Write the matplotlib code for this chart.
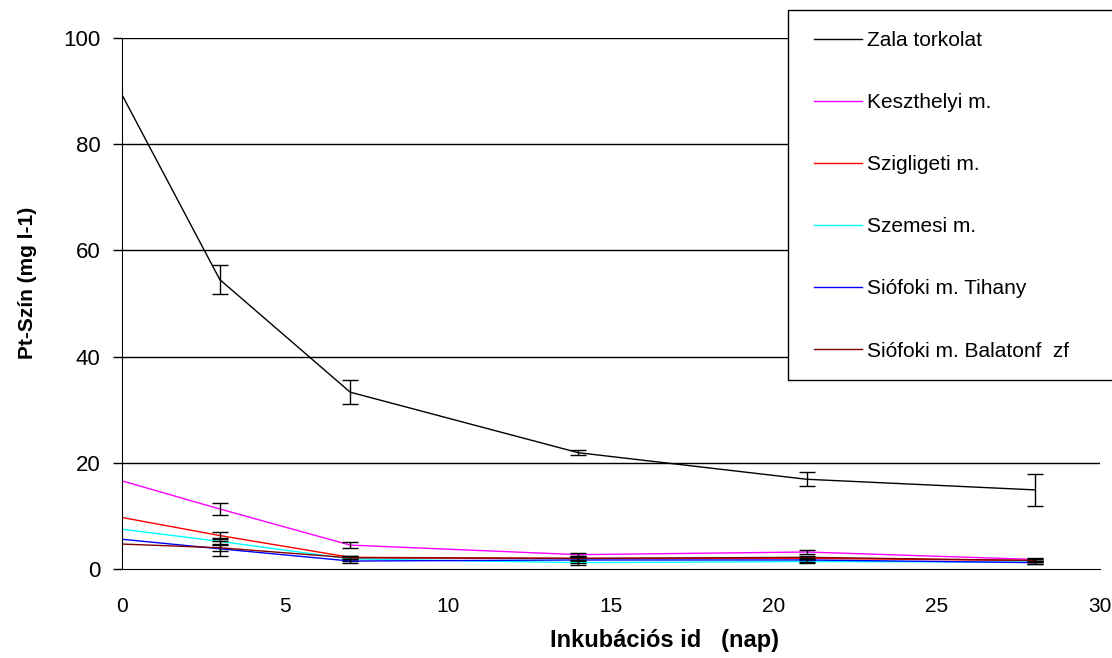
import numpy as np
import matplotlib
matplotlib.use("Agg")
import matplotlib.pyplot as plt
from matplotlib.patches import Rectangle

plt.rcParams['font.family'] = ['Liberation Sans', 'DejaVu Sans']

# napok
napok = [0, 3, 7, 14, 21, 28]

nevek = ['Zala torkolat', 'Keszthelyi m.', 'Szigligeti m.', 'Szemesi m.',
         'Siófoki m. Tihany', 'Siófoki m. Balatonf  zf']

zala = [89.3, 54.5, 33.3, 21.9, 16.9, 14.9]
zala_err = [0, 2.8, 2.2, 0.45, 1.3, 3.0]

keszthelyi = [16.6, 11.3, 4.5, 2.7, 3.2, 1.8]
keszthelyi_err = [0, 1.2, 0.5, 0.3, 0.3, 0.3]

szigligeti = [9.7, 6.3, 2.2, 2.0, 2.0, 1.6]
szigligeti_err = [0, 0.6, 0.3, 0.4, 0.3, 0.3]

szemesi = [7.5, 5.2, 1.9, 1.2, 1.4, 1.3]
szemesi_err = [0, 0.6, 0.3, 0.5, 0.3, 0.3]

tihany = [5.6, 3.8, 1.5, 1.7, 1.7, 1.2]
tihany_err = [0, 1.4, 0.3, 0.5, 0.3, 0.3]

balatonfuzfo = [4.7, 4.0, 2.1, 2.0, 2.2, 1.6]
balatonfuzfo_err = [0, 0.7, 0.3, 0.3, 0.3, 0.3]

sorok = [zala, keszthelyi, szigligeti, szemesi, tihany, balatonfuzfo]
hibak = [zala_err, keszthelyi_err, szigligeti_err, szemesi_err, tihany_err, balatonfuzfo_err]
szinek = ['black', '#ff00ff', '#ff0000', '#00ffff', '#0000ff', '#800000']

W, H = 1112, 658
fig = plt.figure(figsize=(W / 100, H / 100), dpi=100)
ax = fig.add_axes([122 / W, 1 - 569 / H, (1100 - 122) / W, (569 - 38) / H])

for y in [20, 40, 60, 80, 100]:
    ax.axhline(y, color='black', lw=1, zorder=0)

for i in range(len(sorok)):
    ax.plot(napok, sorok[i], color=szinek[i], lw=1, label=nevek[i])
    ax.errorbar(napok[1:], sorok[i][1:], yerr=hibak[i][1:], fmt='none',
                ecolor='black', elinewidth=1, capsize=6, capthick=1)

ax.set_xlim(0, 30)
ax.set_ylim(0, 100)
ax.set_xticks([0, 5, 10, 15, 20, 25, 30])
ax.set_yticks([0, 20, 40, 60, 80, 100])
ax.tick_params(axis='y', direction='out', length=6.5, width=1, pad=9, labelsize=16)
ax.tick_params(axis='x', length=0, pad=20, labelsize=15)
ax.spines['top'].set_visible(False)
ax.spines['right'].set_visible(False)
ax.spines['left'].set_color('black')
ax.spines['bottom'].set_color('black')

fig.text(665 / W, 1 - 641 / H, 'Inkubációs id   (nap)', ha='center', va='center',
         fontsize=17, fontweight='bold')
fig.text(28 / W, 1 - 283 / H, 'Pt-Szín (mg l-1)', ha='center', va='center',
         rotation=90, fontsize=15, fontweight='bold')

# jelmagyarazat doboz
fig.patches.append(Rectangle((788 / W, 1 - 380 / H), (1120 - 788) / W, 370 / H,
                             transform=fig.transFigure, facecolor='white',
                             edgecolor='black', lw=1, zorder=3))
h, l = ax.get_legend_handles_labels()
leg = fig.legend(h, l, loc='upper left', bbox_to_anchor=(814 / W, 1 - 31 / H),
                 frameon=False, fontsize=15, handlelength=2.3, handletextpad=0.25,
                 labelspacing=2.07, borderpad=0, borderaxespad=0)
leg.set_zorder(5)

fig.savefig('out.png', dpi=100)
